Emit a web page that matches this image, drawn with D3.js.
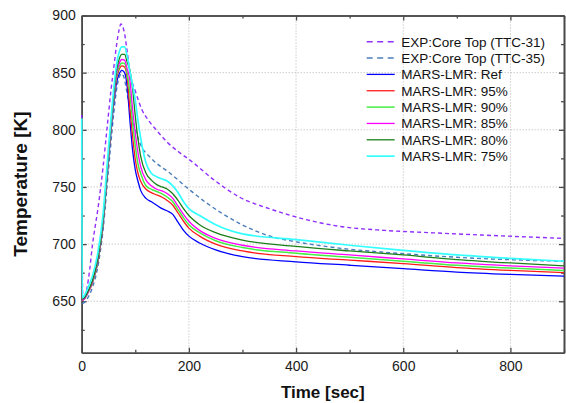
<!DOCTYPE html>
<html>
<head>
<meta charset="utf-8">
<script src="https://cdn.jsdelivr.net/npm/d3@7"></script>
<style>
  body { margin: 0; background: #fff; }
  svg { display: block; font-family: "Liberation Sans", Arial, sans-serif; }
</style>
</head>
<body>
<svg id="chart"></svg>
<script>
// ---- data ----
// MARS-LMR runs share one time grid [sec]
const marsTime = [0, 1, 5, 10, 20, 30, 40, 45, 50, 55, 60, 65, 70, 75, 80, 85, 90, 95, 100, 105,
  110, 120, 130, 140, 150, 160, 170, 180, 190, 200, 220, 250, 300, 400, 500, 600, 700, 800, 900];

const marsRef = [810, 652, 653, 657, 667, 684, 718, 746, 773, 800, 824, 841, 849, 852, 850, 837, 808, 782, 765, 755,
  747, 740, 737, 734, 731, 729, 726, 719, 712, 707, 701, 695, 689, 684.5, 681.5, 678.5, 675.5, 673.5, 672];
const mars95 = [810, 651, 652, 656, 666, 684, 719, 747, 775, 803, 827, 845, 853, 856, 855, 845, 818, 794, 774, 762,
  755, 748, 745, 743, 741, 738, 734, 727, 720, 714, 707, 700, 694, 689, 686, 683, 679.5, 677, 675];
const mars90 = [810, 651, 652, 656, 667, 685, 720, 748, 776, 804, 829, 847, 855, 858.5, 858, 849, 832, 806, 786, 770,
  762, 751, 748, 746, 744, 741, 737, 730, 723, 717, 710, 703, 697, 692, 688.5, 685, 681.5, 679, 677];
const mars85 = [810, 651, 652, 656, 667, 686, 721, 749, 777, 805, 830, 849, 858, 861.5, 861, 853, 843, 818, 797, 780,
  768, 756, 751, 748, 746.5, 744, 740, 733, 726, 720, 712, 705, 699, 694, 690.5, 687, 683.5, 681, 679];
const mars80 = [810, 652, 653, 657, 668, 687, 722, 750, 779, 807, 832, 852, 862, 866, 866, 859, 852, 836, 812, 792,
  777, 762, 756, 752, 750, 748, 744, 738, 731, 725, 717, 710, 703.5, 698, 694, 690.5, 686.5, 683.5, 681];
const mars75 = [810, 653, 655, 660, 672, 692, 727, 755, 784, 811, 837, 857, 868, 872.5, 872.5, 864, 851, 839, 826, 808,
  793, 771, 762, 759, 757, 755, 751, 745, 737, 731, 725, 717, 709, 704, 699, 694.5, 690.5, 687.5, 685];

// experiment, thermocouple TTC-31
const ttc31Time = [0, 2, 6, 10, 15, 20, 25, 30, 35, 40, 47, 55, 60, 65, 70, 73, 76, 80, 85, 90,
  100, 112, 125, 139, 160, 180, 202, 250, 295, 350, 398, 482, 565, 650, 743, 820, 900];
const ttc31 = [813, 651, 654, 662, 678, 699, 715, 730, 748, 768, 800, 836, 855, 874, 888, 892.5, 891, 884, 868, 850,
  834, 818, 808, 800, 789, 781, 773.5, 755, 741, 731, 724, 715.5, 712, 710, 708, 706.5, 705];

// experiment, thermocouple TTC-35
const ttc35Time = [1, 5, 10, 20, 30, 40, 50, 60, 65, 70, 74, 78, 85, 90, 100, 109, 130, 165, 200, 233,
  295, 358, 400, 480, 575, 740, 900];
const ttc35 = [648, 649, 652, 662, 680, 713, 765, 815, 835, 846, 849, 847, 831, 817, 800, 788, 775, 762, 748, 736,
  718, 706, 702, 696.5, 692.5, 687.5, 685];

const seriesNames = ['EXP:Core Top (TTC-31)', 'EXP:Core Top (TTC-35)', 'MARS-LMR: Ref', 'MARS-LMR: 95%',
  'MARS-LMR: 90%', 'MARS-LMR: 85%', 'MARS-LMR: 80%', 'MARS-LMR: 75%'];

const xMajorTicks = [0, 200, 400, 600, 800];
const xMinorTicks = [100, 300, 500, 700, 900];
const yMajorTicks = [650, 700, 750, 800, 850, 900];
const yMinorTicks = [625, 675, 725, 775, 825, 875];

// series table used for drawing
const zip = (ts, vs) => ts.map((t, i) => ({t: t, v: vs[i]}));
const series = [
  {name: seriesNames[0], color: '#9030ff', dashed: true, width: 1.4, points: zip(ttc31Time, ttc31)},
  {name: seriesNames[1], color: '#4a7ebb', dashed: true, width: 1.4, points: zip(ttc35Time, ttc35)},
  {name: seriesNames[2], color: '#0000ff', dashed: false, width: 1.3, points: zip(marsTime, marsRef)},
  {name: seriesNames[3], color: '#ff1a1a', dashed: false, width: 1.3, points: zip(marsTime, mars95)},
  {name: seriesNames[4], color: '#44ee44', dashed: false, width: 1.5, points: zip(marsTime, mars90)},
  {name: seriesNames[5], color: '#ff00ff', dashed: false, width: 1.3, points: zip(marsTime, mars85)},
  {name: seriesNames[6], color: '#1a7f1a', dashed: false, width: 1.3, points: zip(marsTime, mars80)},
  {name: seriesNames[7], color: '#33ffff', dashed: false, width: 1.7, points: zip(marsTime, mars75)}
];

class TemperatureChart {

  constructor(_config, data) {
    this.config = {
      parentElement: _config.parentElement,
      containerWidth: 566,
      containerHeight: 403,
      margin: {top: 15.5, right: 2, bottom: 50.3, left: 81.7}
    };
    this.data = data;
    this.initVis();
  }

  initVis() {
    let vis = this;

    vis.width = vis.config.containerWidth - vis.config.margin.left - vis.config.margin.right;
    vis.height = vis.config.containerHeight - vis.config.margin.top - vis.config.margin.bottom;

    vis.xScale = d3.scaleLinear()
        .domain([0, 900])
        .range([0, vis.width]);

    vis.yScale = d3.scaleLinear()
        .domain([605, 900])
        .range([vis.height, 0]);

    vis.svg = d3.select(vis.config.parentElement)
        .attr('width', vis.config.containerWidth)
        .attr('height', vis.config.containerHeight);

    vis.chart = vis.svg.append('g')
        .attr('transform', `translate(${vis.config.margin.left},${vis.config.margin.top})`);

    // clip a touch wider on the left so the t=0 drop shows over the axis
    vis.svg.append('defs').append('clipPath')
        .attr('id', 'plot-clip')
      .append('rect')
        .attr('x', -1.5)
        .attr('width', vis.width + 1.5)
        .attr('height', vis.height);

    // dotted grid
    vis.chart.append('g').selectAll('line')
        .data(xMajorTicks.filter(d => d > 0))
      .join('line')
        .attr('x1', d => vis.xScale(d))
        .attr('x2', d => vis.xScale(d))
        .attr('y1', 0)
        .attr('y2', vis.height)
        .attr('stroke', '#b4b4b4')
        .attr('stroke-dasharray', '1,2');

    vis.chart.append('g').selectAll('line')
        .data(yMajorTicks.filter(d => d < 900))
      .join('line')
        .attr('x1', 0)
        .attr('x2', vis.width)
        .attr('y1', d => vis.yScale(d))
        .attr('y2', d => vis.yScale(d))
        .attr('stroke', '#b4b4b4')
        .attr('stroke-dasharray', '1,2');

    // axes, ticks point inward on all four sides
    const axes = [
      {g: `translate(0,${vis.height})`, axis: d3.axisBottom(vis.xScale).tickValues(xMajorTicks).tickSize(-5).tickPadding(8)},
      {g: `translate(0,${vis.height})`, axis: d3.axisBottom(vis.xScale).tickValues(xMinorTicks).tickSize(-3).tickFormat('')},
      {g: null, axis: d3.axisTop(vis.xScale).tickValues(xMajorTicks).tickSize(-5).tickFormat('')},
      {g: null, axis: d3.axisTop(vis.xScale).tickValues(xMinorTicks).tickSize(-3).tickFormat('')},
      {g: null, axis: d3.axisLeft(vis.yScale).tickValues(yMajorTicks).tickSize(-5).tickPadding(6)},
      {g: null, axis: d3.axisLeft(vis.yScale).tickValues(yMinorTicks).tickSize(-3).tickFormat('')},
      {g: `translate(${vis.width},0)`, axis: d3.axisRight(vis.yScale).tickValues(yMajorTicks).tickSize(-5).tickFormat('')},
      {g: `translate(${vis.width},0)`, axis: d3.axisRight(vis.yScale).tickValues(yMinorTicks).tickSize(-3).tickFormat('')}
    ];

    axes.forEach(a => {
      let g = vis.chart.append('g')
          .attr('transform', a.g)
          .call(a.axis.tickSizeOuter(0));
      g.select('.domain')
          .attr('stroke', '#4a4a4a')
          .attr('stroke-width', 1.6);
      g.selectAll('.tick line')
          .attr('stroke', '#4a4a4a')
          .attr('stroke-width', 1.3);
      g.selectAll('.tick text')
          .attr('font-family', '"Liberation Sans", Arial, sans-serif')
          .attr('font-size', '14px')
          .attr('fill', '#1a1a1a');
    });

    // curves sit above the frame, like the original
    vis.linesG = vis.chart.append('g').attr('clip-path', 'url(#plot-clip)');

    // axis titles
    vis.svg.append('text')
        .attr('x', vis.config.margin.left + vis.width / 2)
        .attr('y', 398)
        .attr('text-anchor', 'middle')
        .attr('font-size', '17px')
        .attr('font-weight', 'bold')
        .attr('fill', '#111')
        .text('Time [sec]');

    vis.svg.append('text')
        .attr('transform', `translate(26.7,${vis.config.margin.top + vis.height / 2}) rotate(-90)`)
        .attr('text-anchor', 'middle')
        .attr('font-size', '19px')
        .attr('font-weight', 'bold')
        .attr('fill', '#111')
        .text('Temperature [K]');

    vis.updateVis();
  }

  updateVis() {
    let vis = this;

    vis.line = d3.line()
        .x(d => vis.xScale(d.t))
        .y(d => vis.yScale(d.v))
        .curve(d3.curveMonotoneX);

    vis.renderVis();
  }

  renderVis() {
    let vis = this;

    vis.linesG.selectAll('.series')
        .data(vis.data)
      .join('path')
        .attr('class', 'series')
        .attr('fill', 'none')
        .attr('stroke', d => d.color)
        .attr('stroke-width', d => d.width)
        .attr('stroke-dasharray', d => d.dashed ? '4,3' : null)
        .attr('d', d => vis.line(d.points));

    // legend
    let legend = vis.svg.append('g')
        .attr('transform', 'translate(366.7,41.7)');

    let rows = legend.selectAll('.row')
        .data(vis.data)
      .join('g')
        .attr('class', 'row')
        .attr('transform', (d, i) => `translate(0,${i * 16.35})`);

    rows.append('line')
        .attr('x1', 0)
        .attr('x2', 28)
        .attr('stroke', d => d.color)
        .attr('stroke-width', d => d.width)
        .attr('stroke-dasharray', d => d.dashed ? '6,4.5' : null);

    rows.append('text')
        .attr('x', 34.5)
        .attr('dy', '0.36em')
        .attr('font-size', '13.5px')
        .attr('fill', '#111')
        .text(d => d.name);
  }
}

new TemperatureChart({parentElement: '#chart'}, series);
</script>
</body>
</html>
